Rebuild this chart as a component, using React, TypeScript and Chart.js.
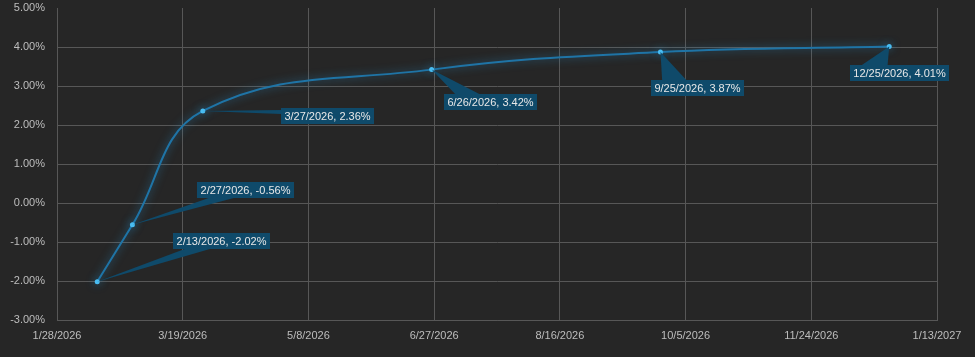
import React, { useEffect, useRef } from "react";
import { Chart, registerables } from "chart.js";

Chart.register(...registerables);

const pointDates = ["2026-02-13", "2026-02-27", "2026-03-27", "2026-06-26", "2026-09-25", "2026-12-25"];
const pointValues = [-2.02, -0.56, 2.36, 3.42, 3.87, 4.01];
const xTickDates = ["2026-01-28", "2026-03-19", "2026-05-08", "2026-06-27", "2026-08-16", "2026-10-05", "2026-11-24", "2027-01-13"];
const yMin = -3;
const yMax = 5;
const yStep = 1;

// label box offsets (px) from each point to the box's top-left corner
const labelOffsets: [number, number][] = [
  [76, -49],
  [65, -43],
  [78, -3],
  [12, 24],
  [-9, 28],
  [-39, 18],
];

const DAY = 86400000;
const dayNum = (s: string) => {
  const [y, m, d] = s.split("-").map(Number);
  return Date.UTC(y, m - 1, d) / DAY;
};
const fmtDate = (n: number) => {
  const dt = new Date(Math.round(n) * DAY);
  return `${dt.getUTCMonth() + 1}/${dt.getUTCDate()}/${dt.getUTCFullYear()}`;
};
const fmtPct = (v: number) => `${v.toFixed(2)}%`;

const BG = "#262626";
const GRID = "#575757";
const LINE = "#1f74a6";
const BOX = "#0f4a6a";

const glowPlugin = {
  id: "glow",
  beforeDatasetDraw(chart: any) {
    const ctx = chart.ctx;
    ctx.save();
    ctx.shadowColor = "rgba(40,160,230,0.6)";
    ctx.shadowBlur = 8;
  },
  afterDatasetDraw(chart: any) {
    chart.ctx.restore();
  },
};

const bgPlugin = {
  id: "bg",
  beforeDraw(chart: any) {
    const ctx = chart.ctx;
    ctx.save();
    ctx.fillStyle = BG;
    ctx.fillRect(0, 0, chart.width, chart.height);
    ctx.restore();
  },
};

const calloutPlugin = {
  id: "callouts",
  afterDatasetsDraw(chart: any) {
    const ctx = chart.ctx;
    const meta = chart.getDatasetMeta(0);
    ctx.save();
    ctx.font = '11px "Liberation Sans", Arial, sans-serif';
    ctx.textBaseline = "middle";
    ctx.textAlign = "center";
    meta.data.forEach((el: any, i: number) => {
      const px = el.x;
      const py = el.y;
      const text = `${fmtDate(dayNum(pointDates[i]))}, ${fmtPct(pointValues[i])}`;
      const tw = ctx.measureText(text).width;
      const w = Math.round(tw + 7);
      const h = 16;
      const [ox, oy] = labelOffsets[i];
      const l = Math.round(px + ox);
      const t = Math.round(py + oy);
      const cx = l + w / 2;
      const cy = t + h / 2;
      const ndx = (px - cx) / w;
      const ndy = (py - cy) / h;
      let b1: [number, number];
      let b2: [number, number];
      if (Math.abs(ndx) > Math.abs(ndy)) {
        const ex = ndx < 0 ? l : l + w;
        const f1 = py < cy ? 0.12 : 0.62;
        const f2 = py < cy ? 0.38 : 0.88;
        b1 = [ex, t + h * f1];
        b2 = [ex, t + h * f2];
      } else {
        const ey = ndy < 0 ? t : t + h;
        const f1 = px < cx ? 0.12 : 0.62;
        const f2 = px < cx ? 0.38 : 0.88;
        b1 = [l + w * f1, ey];
        b2 = [l + w * f2, ey];
      }
      ctx.fillStyle = BOX;
      ctx.beginPath();
      ctx.moveTo(px, py);
      ctx.lineTo(b1[0], b1[1]);
      ctx.lineTo(b2[0], b2[1]);
      ctx.closePath();
      ctx.fill();
      ctx.fillRect(l, t, w, h);
      ctx.fillStyle = "#e8e8e8";
      ctx.fillText(text, cx, cy + 0.5);
    });
    ctx.restore();
  },
};

export default function App() {
  const ref = useRef<HTMLCanvasElement | null>(null);
  useEffect(() => {
    if (!ref.current) return;
    const data = pointDates.map((d, i) => ({ x: dayNum(d), y: pointValues[i] }));
    const chart = new Chart(ref.current, {
      type: "line",
      data: {
        datasets: [
          {
            data,
            borderColor: LINE,
            borderWidth: 2,
            tension: 0.4,
            pointRadius: 2.5,
            pointBackgroundColor: "#49bdf2",
            pointBorderWidth: 0,
            fill: false,
          },
        ],
      },
      options: {
        animation: false,
        responsive: false,
        devicePixelRatio: 1,
        layout: { padding: { top: 8, right: 38, left: 0, bottom: 0 } },
        plugins: { legend: { display: false }, tooltip: { enabled: false } },
        scales: {
          x: {
            type: "linear",
            min: dayNum(xTickDates[0]),
            max: dayNum(xTickDates[xTickDates.length - 1]),
            afterBuildTicks: (axis: any) => {
              axis.ticks = xTickDates.map((d) => ({ value: dayNum(d) }));
            },
            afterFit: (scale: any) => {
              scale.height = 37;
              scale.paddingLeft = 0;
              scale.paddingRight = 0;
              scale.paddingTop = 0;
              scale.paddingBottom = 0;
            },
            grid: { color: GRID, lineWidth: 1, drawTicks: false },
            border: { color: GRID },
            ticks: {
              autoSkip: false,
              maxRotation: 0,
              padding: 9,
              color: "#bdbdbd",
              font: { family: '"Liberation Sans", Arial, sans-serif', size: 11 },
              callback: (v: any) => fmtDate(Number(v)),
            },
          },
          y: {
            min: yMin,
            max: yMax,
            afterFit: (scale: any) => {
              scale.width = 57;
              scale.paddingLeft = 0;
              scale.paddingRight = 0;
              scale.paddingTop = 0;
              scale.paddingBottom = 0;
            },
            grid: {
              color: (c: any) => (c.tick && c.tick.value === yMax ? "rgba(0,0,0,0)" : GRID),
              lineWidth: 1,
              drawTicks: false,
            },
            border: { color: GRID },
            ticks: {
              stepSize: yStep,
              padding: 12,
              color: "#bdbdbd",
              font: { family: '"Liberation Sans", Arial, sans-serif', size: 11 },
              callback: (v: any) => fmtPct(Number(v)),
            },
          },
        },
      },
      plugins: [bgPlugin, glowPlugin, calloutPlugin],
    });
    return () => chart.destroy();
  }, []);
  return (
    <div style={{ position: "absolute", left: 0, top: 0, width: 975, height: 357, background: BG }}>
      <canvas ref={ref} width={975} height={357} style={{ display: "block" }} />
    </div>
  );
}
